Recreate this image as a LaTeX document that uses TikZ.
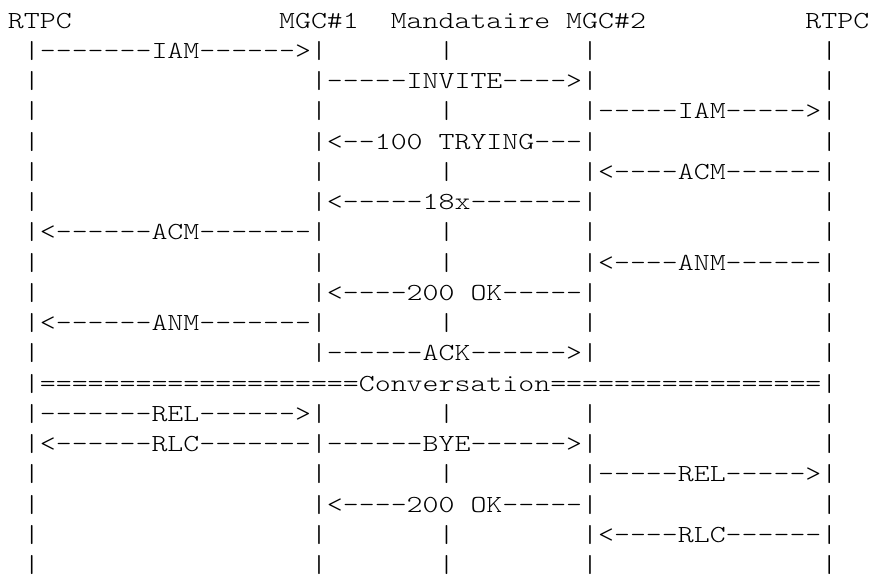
\documentclass[tikz,border=0pt]{standalone}
\usepackage{fontspec}
\setmonofont[FakeStretch=1.24]{Latin Modern Mono Light}
\newcommand\gp[1]{\hskip\dimexpr#1\fontdimen2\font\relax}
\begin{document}
\begin{tikzpicture}[x=1pt,y=1pt,
  asciiline/.style={inner sep=0pt, outer sep=0pt, anchor=base west, text=black,
    font=\ttfamily\fontsize{24.5pt}{30.25pt}\selectfont}]
\useasboundingbox (0,0) rectangle (871,-574);
\fill[white] (0,0) rectangle (871,-574);
\def\ox{8}
\node[asciiline] (r0)  at (\ox,-28.00) {RTPC\gp{13}MGC\#1\gp{2}Mandataire\gp{1}MGC\#2\gp{10}RTPC};
\node[asciiline] (r1)  at (\ox,-58.25) {\gp{1}|-------IAM------>|\gp{7}|\gp{8}|\gp{14}|};
\node[asciiline] (r2)  at (\ox,-88.50) {\gp{1}|\gp{17}|-----INVITE---->|\gp{14}|};
\node[asciiline] (r3)  at (\ox,-118.75) {\gp{1}|\gp{17}|\gp{7}|\gp{8}|-----IAM----->|};
\node[asciiline] (r4)  at (\ox,-149.00) {\gp{1}|\gp{17}|<--100\gp{1}TRYING---|\gp{14}|};
\node[asciiline] (r5)  at (\ox,-179.25) {\gp{1}|\gp{17}|\gp{7}|\gp{8}|<----ACM------|};
\node[asciiline] (r6)  at (\ox,-209.50) {\gp{1}|\gp{17}|<-----18x-------|\gp{14}|};
\node[asciiline] (r7)  at (\ox,-239.75) {\gp{1}|<------ACM-------|\gp{7}|\gp{8}|\gp{14}|};
\node[asciiline] (r8)  at (\ox,-270.00) {\gp{1}|\gp{17}|\gp{7}|\gp{8}|<----ANM------|};
\node[asciiline] (r9)  at (\ox,-300.25) {\gp{1}|\gp{17}|<----200\gp{1}OK-----|\gp{14}|};
\node[asciiline] (r10) at (\ox,-330.50) {\gp{1}|<------ANM-------|\gp{7}|\gp{8}|\gp{14}|};
\node[asciiline] (r11) at (\ox,-360.75) {\gp{1}|\gp{17}|------ACK------>|\gp{14}|};
\node[asciiline] (r12) at (\ox,-391.00) {\gp{1}|====================Conversation=================|};
\node[asciiline] (r13) at (\ox,-421.25) {\gp{1}|-------REL------>|\gp{7}|\gp{8}|\gp{14}|};
\node[asciiline] (r14) at (\ox,-451.50) {\gp{1}|<------RLC-------|------BYE------>|\gp{14}|};
\node[asciiline] (r15) at (\ox,-481.75) {\gp{1}|\gp{17}|\gp{7}|\gp{8}|-----REL----->|};
\node[asciiline] (r16) at (\ox,-512.00) {\gp{1}|\gp{17}|<----200\gp{1}OK-----|\gp{14}|};
\node[asciiline] (r17) at (\ox,-542.25) {\gp{1}|\gp{17}|\gp{7}|\gp{8}|<----RLC------|};
\node[asciiline] (r18) at (\ox,-572.50) {\gp{1}|\gp{17}|\gp{7}|\gp{8}|\gp{14}|};
\end{tikzpicture}
\end{document}
